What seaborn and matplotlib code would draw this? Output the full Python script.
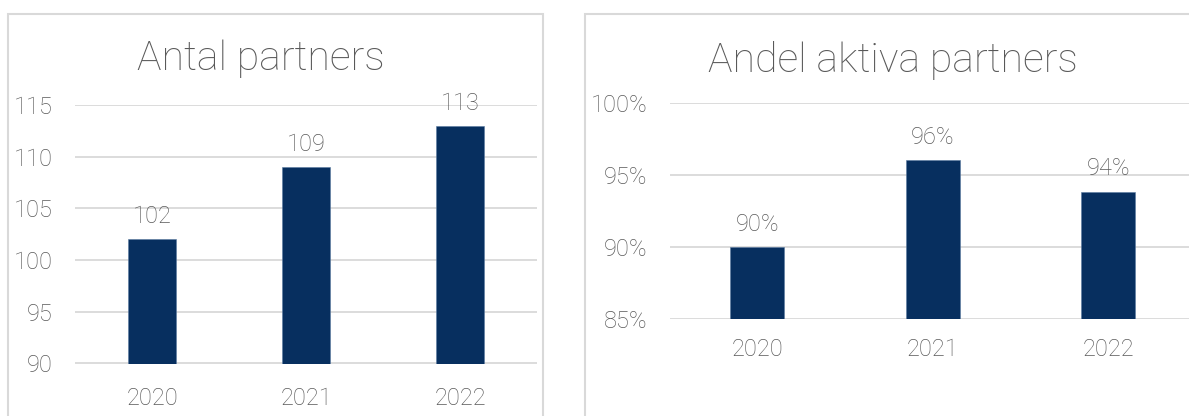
import matplotlib
matplotlib.use("Agg")
import matplotlib.pyplot as plt
import seaborn as sns
import pandas as pd
from matplotlib.patches import Rectangle
from matplotlib.ticker import FuncFormatter

years = ["2020", "2021", "2022"]
antal_partners = [102, 109, 113]
andel_aktiva = [0.90, 0.96, 0.9384]
left_ticks = [90, 95, 100, 105, 110, 115]
right_ticks = [0.85, 0.90, 0.95, 1.00]
titles = ["Antal partners", "Andel aktiva partners"]

sns.set_theme(style="white")
plt.rcParams['font.family'] = ['Roboto', 'DejaVu Sans']
plt.rcParams['font.weight'] = 'light'
FW = "light"

TXT = "#595959"
GRID = "#D9D9D9"
BAR = "#072F5F"

W, H = 1189, 416
fig = plt.figure(figsize=(W / 100, H / 100), dpi=100)

def fx(x):
    return x / W

def fy(y):
    return 1 - y / H

# panel borders
fig.patches.append(Rectangle((fx(8), fy(430)), fx(543) - fx(8), fy(14) - fy(430),
                             transform=fig.transFigure, fill=False, edgecolor=GRID, lw=1.5))
fig.patches.append(Rectangle((fx(585), fy(430)), fx(1210) - fx(585), fy(14) - fy(430),
                             transform=fig.transFigure, fill=False, edgecolor=GRID, lw=1.5))

ax1 = fig.add_axes([fx(75), fy(363.5), fx(537) - fx(75), fy(105) - fy(363.5)])
ax2 = fig.add_axes([fx(669.5), fy(319), fx(1196) - fx(669.5), fy(102.7) - fy(319)])

df1 = pd.DataFrame({"year": years, "value": antal_partners})
df2 = pd.DataFrame({"year": years, "value": andel_aktiva})

sns.barplot(data=df1, x="year", y="value", ax=ax1, color=BAR, width=0.31,
            saturation=1, edgecolor="#5a7aa0", linewidth=0.4)
sns.barplot(data=df2, x="year", y="value", ax=ax2, color=BAR, width=0.31,
            saturation=1, edgecolor="#5a7aa0", linewidth=0.4)

ax1.set_ylim(90, 115)
ax1.set_yticks(left_ticks)
ax2.set_ylim(0.85, 1.00)
ax2.set_yticks(right_ticks)
ax2.yaxis.set_major_formatter(FuncFormatter(lambda v, p: f"{v*100:.0f}%"))

ax1.bar_label(ax1.containers[0], labels=[f"{v}" for v in antal_partners],
              padding=8, fontsize=17, color=TXT, fontweight=FW)
ax2.bar_label(ax2.containers[0], labels=[f"{v*100:.0f}%" for v in andel_aktiva],
              padding=8, fontsize=17, color=TXT, fontweight=FW)

for ax, xpad in ((ax1, 17), (ax2, 14)):
    ax.set_xlim(-0.5, 2.5)
    ax.set_xlabel("")
    ax.set_ylabel("")
    ax.set_facecolor("none")
    for s in ax.spines.values():
        s.set_visible(False)
    ax.yaxis.grid(True, color=GRID, lw=1.3)
    ax.set_axisbelow(True)
    ax.tick_params(axis="y", length=0, pad=16, labelsize=17, labelcolor=TXT)
    ax.tick_params(axis="x", length=0, pad=xpad, labelsize=17, labelcolor=TXT)
    for lab in ax.get_xticklabels() + ax.get_yticklabels():
        lab.set_fontweight(FW)

fig.text(fx(261), fy(70), titles[0], ha="center", va="baseline", fontsize=29.5,
         color=TXT, fontweight=FW)
fig.text(fx(893), fy(72), titles[1], ha="center", va="baseline", fontsize=29.5,
         color=TXT, fontweight=FW)

fig.savefig("out.png", dpi=100, facecolor="white")
